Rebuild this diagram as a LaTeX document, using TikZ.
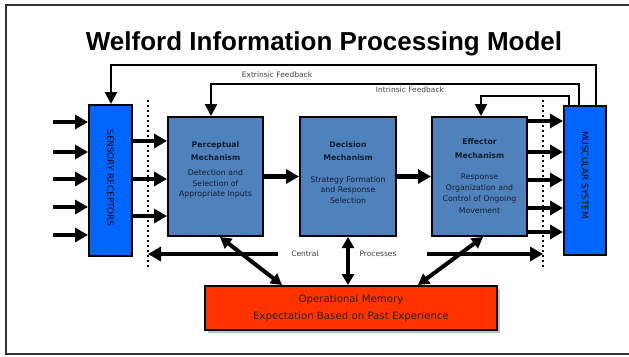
\documentclass[tikz,border=0pt]{standalone}
\usepackage{fontspec}
\setmainfont{DejaVu Sans}
\newfontfamily\titlefont{Liberation Sans}
\usetikzlibrary{arrows.meta,calc}

\definecolor{mechblue}{RGB}{79,129,189}
\definecolor{brightblue}{RGB}{0,102,255}
\definecolor{memred}{RGB}{255,51,0}
\definecolor{inktext}{RGB}{22,30,48}

\tikzset{
  mech/.style={draw=black, line width=2pt, fill=mechblue, minimum width=95pt, minimum height=119pt, inner sep=0pt},
  organ/.style={draw=black, line width=2pt, fill=brightblue, minimum width=42pt, minimum height=150pt, inner sep=0pt},
  mechtext/.style={text=inktext, align=center, font=\fontsize{7.8}{10.8}\selectfont},
  flow/.style={line width=4.5pt, -{Triangle[length=13pt,width=14pt]}},
  fb/.style={line width=2.4pt, -{Triangle[length=12pt,width=12pt]}},
  both/.style={line width=4pt, {Triangle[length=11pt,width=12pt]}-{Triangle[length=11pt,width=12pt]}},
  divider/.style={line width=2pt, dash pattern=on 2pt off 3pt},
  small/.style={font=\fontsize{7.5}{9}\selectfont, text=black!75}
}

\begin{document}
\begin{tikzpicture}[x=1pt,y=-1pt]
    \useasboundingbox (0,0) rectangle (629,356);
    \draw[line width=2pt, black!80] (6,5) rectangle (650,354);

    % Title
    \node (title) at (324,44) {\titlefont\bfseries\fontsize{26}{30}\selectfont Welford Information Processing Model};

    % Boxes
    \node[organ, minimum width=43pt, minimum height=151pt] (sens) at (110.5,180.5) {};
    \node[rotate=-90, font=\fontsize{8.8}{11}\selectfont] (sens-t) at (110.5,178) {SENSORY RECEPTORS};
    \node[mech] (perc) at (215.5,176.5) {};
    \node[mech, minimum width=96pt] (deci) at (348,176.5) {};
    \node[mech] (effe) at (479.5,176.5) {};
    \node[organ, minimum height=149pt] (musc) at (585,180.5) {};
    \node[rotate=-90, font=\fontsize{8.8}{11}\selectfont] (musc-t) at (585,175) {MUSCULAR SYSTEM};
    \fill[black!25] (208,289) rectangle (500,333);
    \node[draw=black, line width=2pt, fill=memred, minimum width=292pt, minimum height=44pt, align=center,
          text=black!85, font=\fontsize{10.2}{16.5}\selectfont] (mem) at (351,308)
          {Operational Memory\\Expectation Based on Past Experience};

    % Texts in the mechanisms
    \node[mechtext] (perc-h) at (215.5,151) {\bfseries Perceptual\\[3pt]\bfseries Mechanism};
    \node[mechtext] (perc-b) at (215.5,184) {Detection and\\Selection of\\Appropriate Inputs};
    \node[mechtext] (deci-h) at (348,151) {\bfseries Decision\\[3pt]\bfseries Mechanism};
    \node[mechtext] (deci-b) at (348,190) {Strategy Formation\\and Response\\Selection};
    \node[mechtext] (effe-h) at (479.5,148.5) {\bfseries Effector\\[3pt]\bfseries Mechanism};
    \node[mechtext] (effe-b) at (479.5,194) {Response\\Organization and\\Control of Ongoing\\[2pt]Movement};

    % Dividers
    \coordinate (dl1) at (148,100);
    \coordinate (dl2) at (148,270);
    \coordinate (dr1) at (543,100);
    \coordinate (dr2) at (543,270);
    \draw[divider] (dl1) -- (dl2);
    \draw[divider] (dr1) -- (dr2);

    % Stimuli into the receptors
    \foreach \y [count=\i] in {122,152,179,207,235} {
        \coordinate (in\i) at (53,\y);
        \draw[flow] (in\i) -- (sens.west |- in\i);
    }
    \foreach \y in {141,179,216} {
        \draw[flow] (sens.east |- 0,\y) -- (perc.west |- 0,\y);
    }
    \draw[flow] (perc.east) -- (deci.west);
    \draw[flow] (deci.east) -- (effe.west);
    \foreach \y in {121,152,180,208,232} {
        \draw[flow] (effe.east |- 0,\y) -- (musc.west |- 0,\y);
    }

    % Feedback loops
    \coordinate (ext) at (111,65);
    \coordinate (ext2) at (596,65);
    \coordinate (int) at (211,84);
    \coordinate (int2) at (579,84);
    \coordinate (eff) at (481,96);
    \coordinate (eff2) at (569,96);
    \draw[fb] (musc.north -| ext2) -- (ext2) -- (ext) -- (sens.north -| ext);
    \draw[fb] (musc.north -| int2) -- (int2) -- (int) -- (perc.north -| int);
    \draw[fb, line width=2pt] (musc.north -| eff2) -- (eff2) -- (eff) -- (effe.north -| eff);
    \node[small] (ext-l) at (277,75) {Extrinsic Feedback};
    \node[small] (int-l) at (410,89.5) {Intrinsic Feedback};

    % Central processes
    \coordinate (cl) at (278,254);
    \coordinate (cr) at (427,254);
    \draw[flow] (cl) -- (dl2 |- cl);
    \draw[flow] (cr) -- (dr2 |- cr);
    \node[small] (central) at (305,254) {Central};
    \node[small] (procs) at (378,254) {Processes};
    \draw[both] (perc.south -| 220,0) -- (mem.north -| 282,0);
    \draw[both] (deci.south) -- (mem.north -| deci.south);
    \draw[both] (effe.south -| 483,0) -- (mem.north -| 418,0);
\end{tikzpicture}
\end{document}
